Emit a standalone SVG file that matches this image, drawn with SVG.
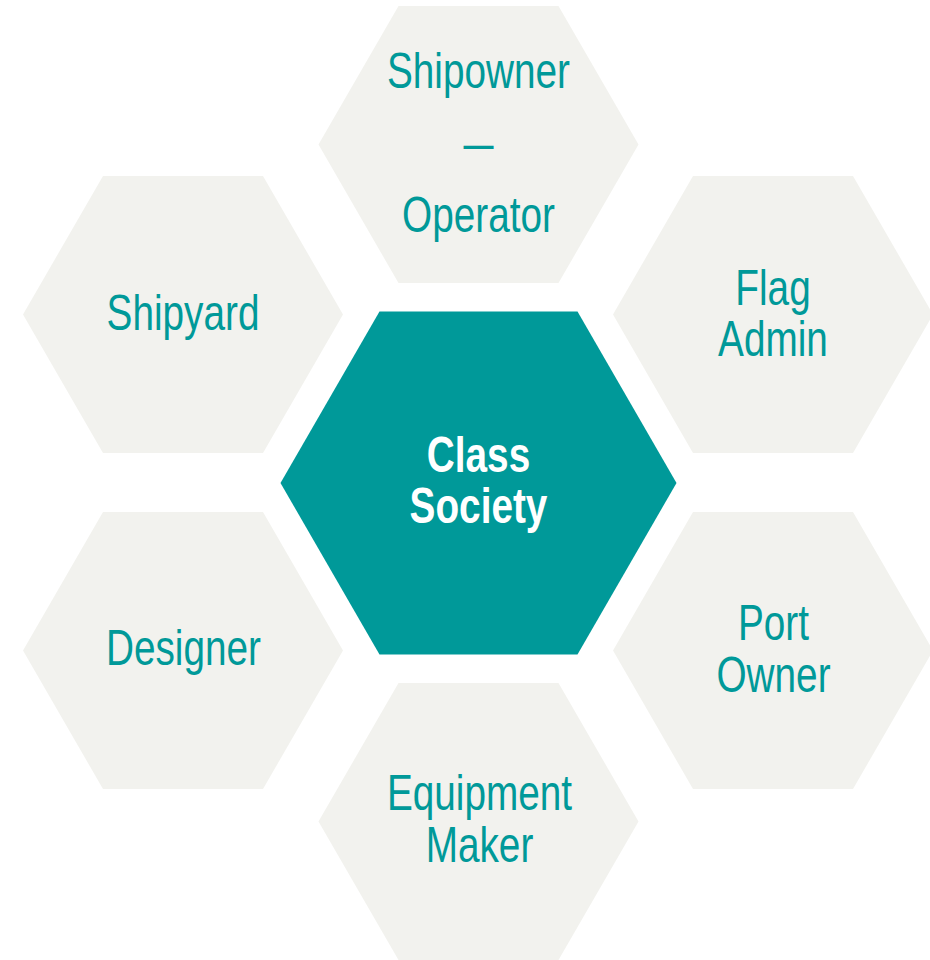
<svg xmlns="http://www.w3.org/2000/svg" width="930" height="960" viewBox="0 0 930 960">
  <style>
    .hex { fill: #F2F2EE; }
    .hub { fill: #009999; }
    .lbl { font-family: "Liberation Sans", Arial, sans-serif; font-size: 50px; fill: #009999; text-anchor: middle; }
    .hub-lbl { font-family: "Liberation Sans", Arial, sans-serif; font-size: 50px; font-weight: bold; fill: #FFFFFF; text-anchor: middle; }
  </style>
  <defs>
    <!-- regular flat-topped hexagon, circumradius 160, centred on the origin -->
    <polygon id="hex-shape" points="-160,0 -80,-138.5 80,-138.5 160,0 80,138.5 -80,138.5"/>
  </defs>
  <rect width="930" height="960" fill="#FFFFFF"/>

  <g id="connectors"/>

  <g id="node-shipowner">
    <use href="#hex-shape" class="hex" x="478.5" y="144.5"/>
    <g transform="translate(478.5 0) scale(0.775 1)">
      <text class="lbl" x="0" y="88">Shipowner</text>
      <text class="lbl" x="0" y="232.5">Operator</text>
    </g>
    <g transform="translate(478.5 0) scale(0.6 1)">
      <text class="lbl" x="0" y="160.5">—</text>
    </g>
  </g>

  <g id="node-shipyard">
    <use href="#hex-shape" class="hex" x="183" y="314.5"/>
    <g transform="translate(183 0) scale(0.775 1)">
      <text class="lbl" x="0" y="330.5">Shipyard</text>
    </g>
  </g>

  <g id="node-flag-admin">
    <use href="#hex-shape" class="hex" x="773" y="314.5"/>
    <g transform="translate(773 0) scale(0.775 1)">
      <text class="lbl" x="0" y="305">Flag</text>
      <text class="lbl" x="0" y="356.5">Admin</text>
    </g>
  </g>

  <g id="node-designer">
    <use href="#hex-shape" class="hex" x="183" y="650.5"/>
    <g transform="translate(183.5 0) scale(0.775 1)">
      <text class="lbl" x="0" y="665">Designer</text>
    </g>
  </g>

  <g id="node-port-owner">
    <use href="#hex-shape" class="hex" x="773" y="650.5"/>
    <g transform="translate(773.5 0) scale(0.775 1)">
      <text class="lbl" x="0" y="640">Port</text>
      <text class="lbl" x="0" y="692">Owner</text>
    </g>
  </g>

  <g id="node-equipment-maker">
    <use href="#hex-shape" class="hex" x="478.5" y="821.5"/>
    <g transform="translate(479.5 0) scale(0.775 1)">
      <text class="lbl" x="0" y="810.5">Equipment</text>
      <text class="lbl" x="0" y="862">Maker</text>
    </g>
  </g>

  <g id="node-class-society">
    <polygon class="hub" points="280.5,483 379.5,311.5 577.5,311.5 676.5,483 577.5,654.5 379.5,654.5"/>
    <g transform="translate(478.5 0) scale(0.775 1)">
      <text class="hub-lbl" x="0" y="472.5">Class</text>
      <text class="hub-lbl" x="0" y="523">Society</text>
    </g>
  </g>
</svg>
